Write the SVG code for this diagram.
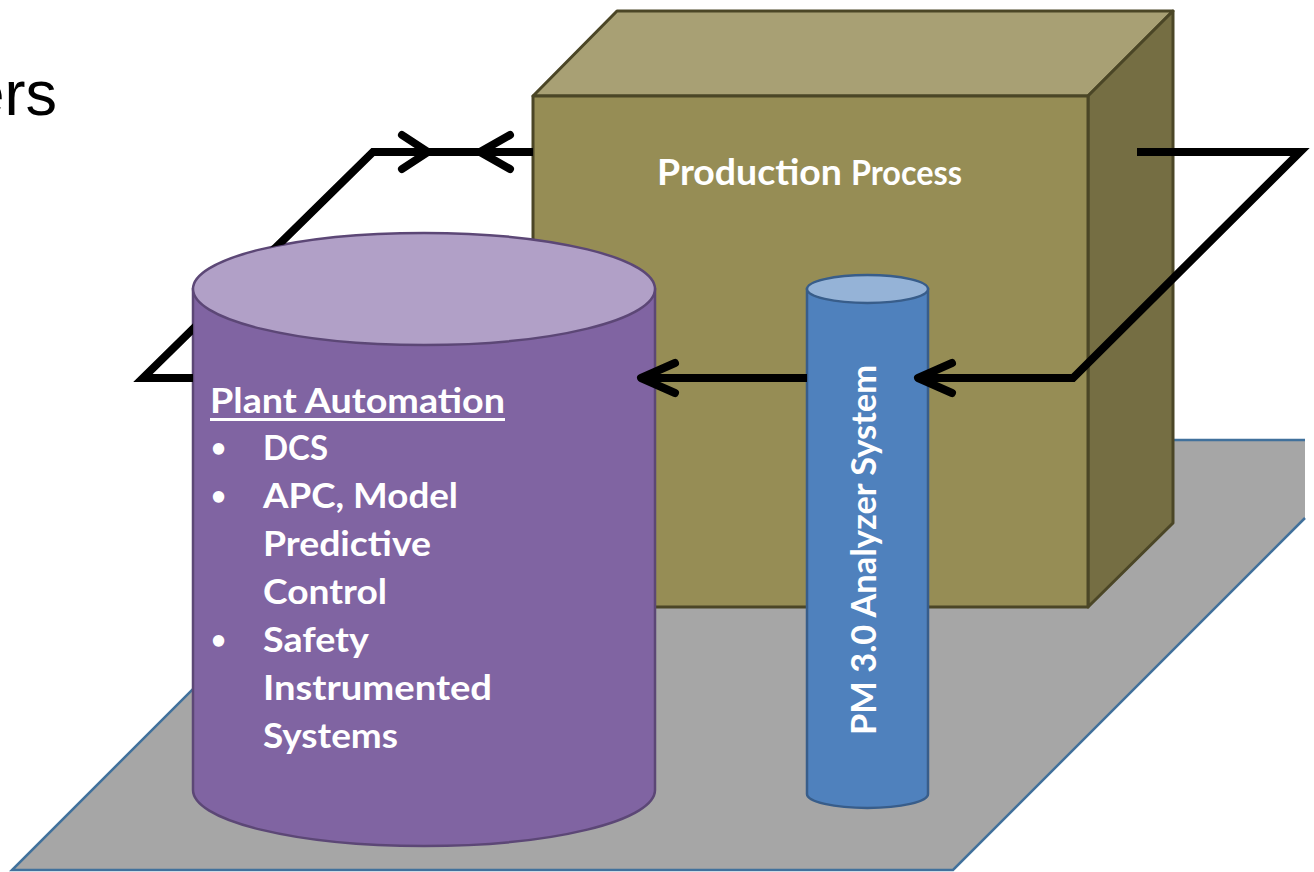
<svg xmlns="http://www.w3.org/2000/svg" xmlns:xlink="http://www.w3.org/1999/xlink" width="1314" height="872" viewBox="0 0 1314 872">
  <style>
    .edge { fill: none; stroke: #41719c; stroke-width: 2.5; }
    .box { stroke: #4b4626; stroke-width: 3; stroke-linejoin: round; }
    .wire { fill: none; stroke: #000; stroke-width: 8; stroke-linejoin: miter; }
    .head { fill: none; stroke: #000; stroke-width: 8; stroke-linecap: round; stroke-linejoin: round; }
    .lbl { font-family: Lato, "Open Sans", "Liberation Sans", sans-serif; font-weight: 700; fill: #fff; }
    .bul { font-family: Lato, "Open Sans", "Liberation Sans", sans-serif; font-size: 26px; fill: #fff; }
  </style>
  <defs>
    <!-- everything except the automation cylinder, so the loop passes behind it -->
    <clipPath id="behindCyl">
      <path clip-rule="evenodd" d="M0,0 H1314 V872 H0 Z M193,289 A231,56 0 0 1 655,289 V790 A231,56 0 0 1 193,790 Z"/>
    </clipPath>
  </defs>

  <rect width="1314" height="872" fill="#fff"/>

  <!-- heading fragment -->
  <text x="57" y="115" text-anchor="end" font-family="'Liberation Sans', Arial, sans-serif" font-size="63" fill="#000">ers</text>

  <!-- floor plate -->
  <g id="floor">
    <polygon points="12,870 442,440 1305,440 1305,518 953,870" fill="#a6a6a6"/>
    <polyline class="edge" points="442,440 1305,440"/>
    <polyline class="edge" points="1305,518 953,870 12,870 442,440"/>
  </g>

  <!-- production process block -->
  <g id="production-process">
    <polygon class="box" points="533,96 617,11 1173,11 1088,96" fill="#a8a074"/>
    <polygon class="box" points="1088,96 1173,11 1173,523 1088,607" fill="#756e43"/>
    <rect class="box" x="533" y="96" width="555" height="511" fill="#968d55"/>
    <text class="lbl" x="657" y="185" font-size="36" textLength="185" lengthAdjust="spacingAndGlyphs">Production</text>
    <text class="lbl" x="851" y="185" font-size="34" font-weight="600" textLength="111" lengthAdjust="spacingAndGlyphs">Process</text>
  </g>

  <!-- plant automation cylinder -->
  <g id="plant-automation">
    <path d="M193,289 V790 A231,56 0 0 0 655,790 V289 Z" fill="#8064a2" stroke="#5c4776" stroke-width="2.5"/>
    <ellipse cx="424" cy="289" rx="231" ry="56" fill="#b1a0c7" stroke="#5c4776" stroke-width="2.5"/>
    <g class="lbl" font-size="35">
      <text x="210" y="413" textLength="295" lengthAdjust="spacingAndGlyphs">Plant Automation</text>
      <rect x="210" y="418" width="295" height="3" fill="#fff"/>
      <text class="bul" x="211" y="457">•</text>
      <text x="263" y="460" textLength="65" lengthAdjust="spacingAndGlyphs">DCS</text>
      <text class="bul" x="211" y="505">•</text>
      <text x="263" y="508" textLength="195" lengthAdjust="spacingAndGlyphs">APC, Model</text>
      <text x="263" y="556" textLength="168" lengthAdjust="spacingAndGlyphs">Predictive</text>
      <text x="263" y="604" textLength="124" lengthAdjust="spacingAndGlyphs">Control</text>
      <text class="bul" x="211" y="649">•</text>
      <text x="263" y="652" textLength="106" lengthAdjust="spacingAndGlyphs">Safety</text>
      <text x="263" y="700" textLength="229" lengthAdjust="spacingAndGlyphs">Instrumented</text>
      <text x="263" y="748" textLength="135" lengthAdjust="spacingAndGlyphs">Systems</text>
    </g>
  </g>

  <!-- analyzer column -->
  <g id="pm-analyzer">
    <path d="M807,289 V794 A60.5,14 0 0 0 928,794 V289 Z" fill="#4f81bd" stroke="#385d8a" stroke-width="2.5"/>
    <ellipse cx="867.5" cy="289" rx="60.5" ry="14" fill="#95b3d7" stroke="#385d8a" stroke-width="2.5"/>
    <text class="lbl" x="876" y="550" font-size="35" text-anchor="middle" transform="rotate(-90 876 550)" textLength="370" lengthAdjust="spacingAndGlyphs">PM 3.0 Analyzer System</text>
  </g>

  <!-- signal loops -->
  <g id="connectors">
    <g clip-path="url(#behindCyl)">
      <path class="wire" d="M533,152 H373 L143,378 H200"/>
    </g>
    <path class="head" d="M402,135 L428,152 L402,169"/>
    <path class="head" d="M510,135 L480,152 L510,169"/>
    <path class="wire" d="M1137,152 H1300 L1073,378 H921"/>
    <path class="head" d="M952,363 L918,378 L952,393"/>
    <path class="wire" d="M807,378 H644"/>
    <path class="head" d="M675,363 L641,378 L675,393"/>
  </g>
</svg>
